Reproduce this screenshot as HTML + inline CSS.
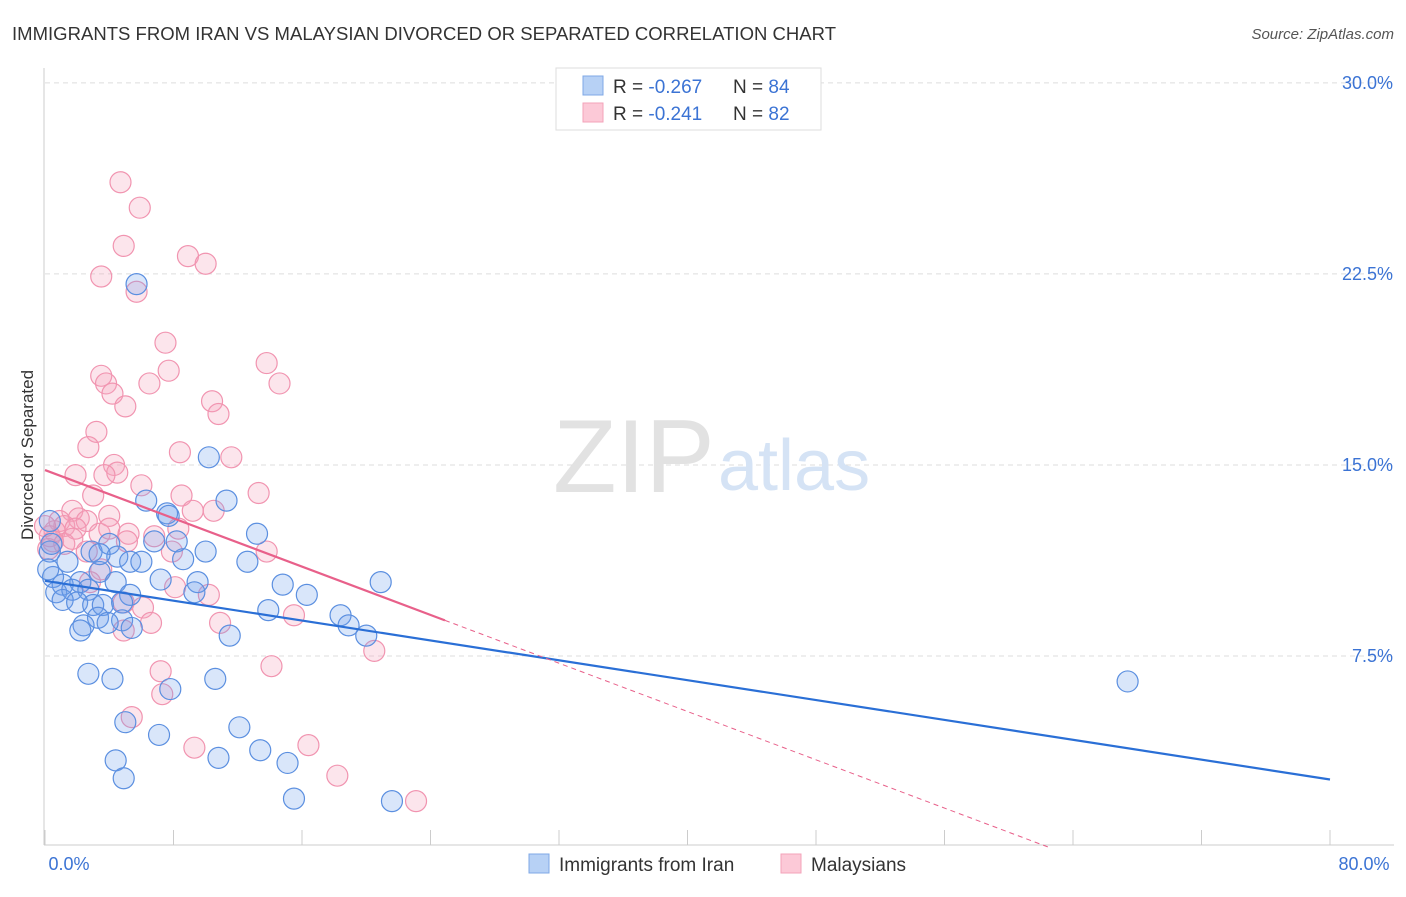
<!DOCTYPE html>
<html><head><meta charset="utf-8"><style>
body{margin:0;background:#fff;font-family:"Liberation Sans",sans-serif;}
svg text{font-family:"Liberation Sans",sans-serif;}
</style></head><body>
<svg width="1406" height="892" viewBox="0 0 1406 892">
<text x="12" y="40" font-size="18.5" fill="#333" textLength="824">IMMIGRANTS FROM IRAN VS MALAYSIAN DIVORCED OR SEPARATED CORRELATION CHART</text>
<text x="1394" y="39" font-size="15" fill="#555" font-style="italic" text-anchor="end">Source: ZipAtlas.com</text>
<g id="grid"></g>
<text x="553" y="492" font-size="104" font-family="Liberation Serif,serif" fill="#e2e2e2">ZIP</text>
<text x="718" y="490" font-size="72" fill="#d5e3f5">atlas</text>
<line x1="44" y1="68" x2="44" y2="845" stroke="#ccc"/>
<line x1="44" y1="845" x2="1394" y2="845" stroke="#ccc"/>
<g id="xticks"></g>
<g id="ylabels"></g>
<text x="69" y="870" font-size="18" fill="#3b73d4" text-anchor="middle">0.0%</text>
<text x="1364" y="870" font-size="18" fill="#3b73d4" text-anchor="middle">80.0%</text>
<text transform="translate(33,455) rotate(-90)" font-size="17" fill="#333" text-anchor="middle">Divorced or Separated</text>
<g id="pink"></g>
<g id="blue"></g>
<g id="lines"></g>
<g>
<rect x="556" y="68" width="265" height="62" fill="#fff" stroke="#ddd"/>
<rect x="583" y="76" width="20" height="19" fill="#b7d1f5" stroke="#7fa8e6"/>
<rect x="583" y="103" width="20" height="19" fill="#fcc9d7" stroke="#f3a3ba"/>
<text x="613" y="93" font-size="19" fill="#333">R = <tspan fill="#3b73d4">-0.267</tspan><tspan x="733">N = </tspan><tspan fill="#3b73d4">84</tspan></text>
<text x="613" y="120" font-size="19" fill="#333">R = <tspan fill="#3b73d4"> -0.241</tspan><tspan x="733">N = </tspan><tspan fill="#3b73d4">82</tspan></text>
</g>
<g>
<rect x="529" y="854" width="20" height="19" fill="#b7d1f5" stroke="#7fa8e6"/>
<text x="559" y="871" font-size="19" fill="#333">Immigrants from Iran</text>
<rect x="781" y="854" width="20" height="19" fill="#fcc9d7" stroke="#f3a3ba"/>
<text x="811" y="871" font-size="19" fill="#333">Malaysians</text>
</g>
</svg>
<script>
const yTicks=[7.5,15,22.5,30];
const yTickLabels=["7.5%","15.0%","22.5%","30.0%"];
const xTicks=[0,8,16,24,32,40,48,56,64,72,80];
const blueX=[5.7,10.2,11.3,6.3,7.6,13.2,6.8,8.2,10.0,2.9,4.0,4.5,5.3,8.6,12.6,0.3,1.4,3.4,7.2,9.5,14.8,20.9,0.5,1.1,2.2,4.4,0.7,1.7,2.7,5.3,9.3,16.3,1.1,2.0,3.0,3.6,4.8,13.9,18.4,18.9,3.3,4.8,3.9,2.4,5.4,2.2,11.5,20.0,2.7,4.2,7.8,10.6,67.4,5.0,12.1,7.1,4.4,10.8,13.4,15.1,4.9,15.5,21.6,0.4,0.3,0.2,6.0,3.4,7.7];
const blueY=[22.1,15.3,13.6,13.6,13.1,12.3,12.0,12.0,11.6,11.6,11.9,11.4,11.2,11.3,11.2,11.6,11.2,10.8,10.5,10.4,10.3,10.4,10.6,10.3,10.4,10.4,10.0,10.1,10.1,9.9,10.0,9.9,9.7,9.6,9.5,9.5,9.6,9.3,9.1,8.7,9.0,8.9,8.8,8.7,8.6,8.5,8.3,8.3,6.8,6.6,6.2,6.6,6.5,4.9,4.7,4.4,3.4,3.5,3.8,3.3,2.7,1.9,1.8,11.9,12.8,10.9,11.2,11.5,13.0];
const pinkX=[4.7,5.9,4.9,3.5,8.9,10.0,5.7,7.5,13.8,7.7,3.5,3.8,6.5,14.6,4.2,5.0,10.4,10.8,3.2,2.7,8.4,11.6,4.3,4.5,1.9,3.7,6.0,3.0,8.5,13.3,9.2,10.5,4.0,1.7,2.1,2.6,0.9,1.2,0.6,0.3,1.9,3.4,4.0,5.2,8.3,6.8,0.5,1.2,1.7,5.1,2.6,13.8,7.9,3.5,2.8,8.1,10.2,4.9,6.1,15.5,6.6,10.9,4.9,20.5,7.2,14.1,7.3,5.4,9.3,16.4,18.2,23.1,0,0.2];
const pinkY=[26.1,25.1,23.6,22.4,23.2,22.9,21.8,19.8,19.0,18.7,18.5,18.2,18.2,18.2,17.8,17.3,17.5,17.0,16.3,15.7,15.5,15.3,15.0,14.7,14.6,14.6,14.2,13.8,13.8,13.9,13.2,13.2,13.0,13.2,12.9,12.8,12.8,12.6,12.4,12.2,12.5,12.3,12.5,12.3,12.5,12.2,12.0,11.9,12.1,12.0,11.6,11.6,11.6,10.9,10.4,10.2,9.9,9.6,9.4,9.1,8.8,8.8,8.5,7.7,6.9,7.1,6.0,5.1,3.9,4.0,2.8,1.8,12.6,11.7];
const blueTrend=[10.45,2.65];
const pinkTrend=[14.8,-0.237,24.9];
const NS="http://www.w3.org/2000/svg";
const sx=v=>45+v*1285/80, sy=v=>847-v*25.47;
function mk(tag,parent,attrs){const e=document.createElementNS(NS,tag);for(const k in attrs)e.setAttribute(k,attrs[k]);document.getElementById(parent).appendChild(e);return e;}
yTicks.forEach((t,i)=>{
 const l=mk('line','grid',{x1:45,x2:1394,y1:sy(t),y2:sy(t),stroke:'#ddd','stroke-dasharray':'5,4'});
 
 
 const tx=mk('text','ylabels',{x:1393,y:sy(t)+6,'font-size':18,fill:'#3b73d4','text-anchor':'end'});
 tx.textContent=yTickLabels[i];
 
 
});
xTicks.forEach(t=>{
 const l=mk('line','xticks',{x1:sx(t),x2:sx(t),y1:830,y2:845,stroke:'#ccc'});
 
 
});
pinkX.forEach((x,i)=>{
 const c=mk('circle','pink',{cx:sx(x),cy:sy(pinkY[i]),r:10.5,fill:'rgba(246,160,188,0.28)',stroke:'#f194b0','stroke-width':1.2});
 
 
});
blueX.forEach((x,i)=>{
 const c=mk('circle','blue',{cx:sx(x),cy:sy(blueY[i]),r:10.5,fill:'rgba(110,160,235,0.26)',stroke:'#5b8fe0','stroke-width':1.2});
 
 
});
const bl=mk('line','lines',{x1:sx(0),y1:sy(blueTrend[0]),x2:sx(80),y2:sy(blueTrend[1]),stroke:'#2a6fd6','stroke-width':2.2});


const pe=pinkTrend[2], zx=-pinkTrend[0]/pinkTrend[1];
const pl=mk('line','lines',{x1:sx(0),y1:sy(pinkTrend[0]),x2:sx(pe),y2:sy(pinkTrend[0]+pinkTrend[1]*pe),stroke:'#e8608a','stroke-width':2.2});


const pd=mk('line','lines',{x1:sx(pe),y1:sy(pinkTrend[0]+pinkTrend[1]*pe),x2:sx(zx),y2:sy(0),stroke:'#e8608a','stroke-width':1,'stroke-dasharray':'5,4'});


</script>
</body></html>
